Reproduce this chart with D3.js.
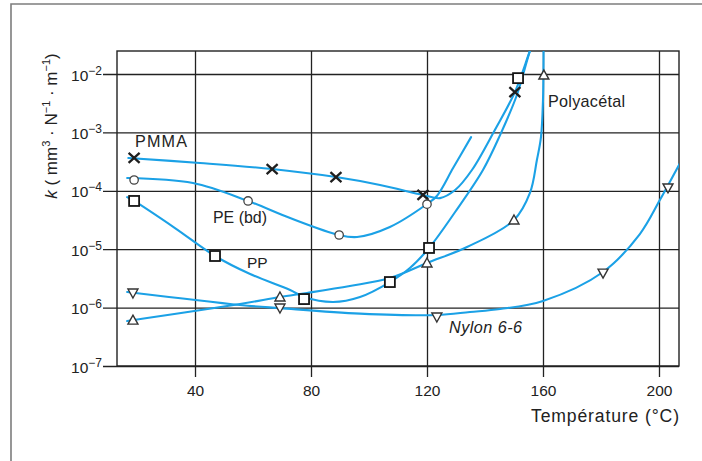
<!DOCTYPE html>
<html><head><meta charset="utf-8">
<script src="https://cdn.jsdelivr.net/npm/d3@7"></script>
<style>
body{margin:0;background:#fff}
svg{display:block}
text{font-family:"Liberation Sans",Arial,sans-serif;fill:#222}
</style>
</head><body>
<svg id="c" width="702" height="461"></svg>
<script>
// ---- data ----
const xTicks = [40, 80, 120, 160, 200];
const yTicks = [1e-7, 1e-6, 1e-5, 1e-4, 1e-3, 1e-2];
const yTickExp = ["−7", "−6", "−5", "−4", "−3", "−2"];

// PMMA (×)
const pmmaCurveT = [17, 41.7, 66.6, 88.6, 103.8, 118.6, 124.5, 129.7, 135.5, 143.4, 150.3, 155.5, 157.6];
const pmmaCurveK = [3.65e-4, 3.0e-4, 2.36e-4, 1.72e-4, 1.26e-4, 8.5e-5, 7.5e-5, 1.03e-4, 2.27e-4, 1.1e-3, 4.9e-3, 2.5e-2, 4.7e-2];
const pmmaMarkT = [19, 66.6, 88.6, 118.6, 150.3];
const pmmaMarkK = [3.65e-4, 2.36e-4, 1.72e-4, 8.5e-5, 4.9e-3];

// PE (bd) (○)
const peCurveT = [16.6, 39.3, 58.3, 72.8, 89.7, 95.9, 107.2, 120, 123.4, 129, 135.2];
const peCurveK = [1.66e-4, 1.36e-4, 6.7e-5, 3.42e-5, 1.75e-5, 1.62e-5, 2.4e-5, 5.94e-5, 8.15e-5, 2.45e-4, 8.3e-4];
const peMarkT = [19, 58.3, 89.7, 120];
const peMarkK = [1.53e-4, 6.7e-5, 1.75e-5, 5.9e-5];

// PP (□)
const ppCurveT = [16.6, 19, 33.1, 46.9, 59, 72.8, 77.6, 87.6, 96.9, 107.2, 114.1, 120.7, 129.7, 139.3, 145.2, 151, 155.5, 157.6];
const ppCurveK = [7.8e-5, 6.7e-5, 2.3e-5, 7.65e-6, 3.76e-6, 2.0e-6, 1.52e-6, 1.25e-6, 1.52e-6, 2.74e-6, 4.76e-6, 1.05e-5, 4.34e-5, 2.27e-4, 9.0e-4, 4.37e-3, 2.48e-2, 4.7e-2];
const ppMarkT = [19, 46.9, 77.6, 107.2, 120.7, 151.4];
const ppMarkK = [6.7e-5, 7.65e-6, 1.4e-6, 2.74e-6, 1.05e-5, 8.5e-3];

// Polyacétal (△)
const poCurveT = [16.6, 55.5, 69.3, 78.6, 93.4, 107.2, 120, 133.8, 150, 155.5, 157.9, 159.3, 160, 160.2];
const poCurveK = [5.9e-7, 1.15e-6, 1.52e-6, 1.78e-6, 2.34e-6, 3.2e-6, 5.8e-6, 1.09e-5, 3.16e-5, 9.2e-5, 3.37e-4, 8.3e-4, 3.6e-3, 5e-2];
const poMarkT = [18.6, 69.3, 120, 150, 160.3];
const poMarkK = [6.1e-7, 1.52e-6, 5.8e-6, 3.16e-5, 9.6e-3];

// Nylon 6-6 (▽)
const nyCurveT = [16.6, 55.5, 69.3, 96.9, 123.4, 134.8, 145.2, 160, 180.7, 193.4, 200.3, 206.9, 210.7];
const nyCurveK = [1.85e-6, 1.11e-6, 9.8e-7, 7.9e-7, 7.46e-7, 8.4e-7, 9.46e-7, 1.3e-6, 4.07e-6, 1.82e-5, 6.95e-5, 2.77e-4, 6.1e-4];
const nyMarkT = [18.6, 69.3, 123.4, 180.7, 203.1];
const nyMarkK = [1.78e-6, 9.85e-7, 6.9e-7, 3.9e-6, 1.12e-4];

// ---- layout ----
const L = 117, R = 679, T = 51, B = 366;
const svg = d3.select("#c");
const x = d3.scaleLinear().domain([13.1, 206.9]).range([L, R]);
const y = d3.scaleLog().domain([1e-7, Math.pow(10, -1.606)]).range([B, T]);
const blue = "#1ba1e6";
const ink = "#222";

// outer frame
svg.append("path").attr("d", "M11,461L11,4L702,4")
  .attr("fill", "none").attr("stroke", "#7d7d7d").attr("stroke-width", 1.6);

// x axis with grid
const gx = svg.append("g").attr("transform", `translate(0,${B + 11})`)
  .call(d3.axisBottom(x).tickValues(xTicks).tickSizeInner(-(B + 11 - T)).tickSizeOuter(0).tickPadding(8).tickFormat(d3.format("d")));
gx.select(".domain").remove();
gx.selectAll("line").attr("stroke", ink).attr("stroke-width", 1.3);
gx.selectAll("text").attr("font-size", 15.5).attr("fill", ink).style("font-family", '"Liberation Sans",Arial,sans-serif');

// y axis with grid
const gy = svg.append("g").attr("transform", `translate(${L - 14},0)`)
  .call(d3.axisLeft(y).tickValues(yTicks).tickSizeInner(-(R - L + 14)).tickSizeOuter(0).tickPadding(1).tickFormat(() => ""));
gy.select(".domain").remove();
gy.selectAll("line").attr("stroke", ink).attr("stroke-width", 1.3);
gy.selectAll("text").each(function(d, i) {
  const t = d3.select(this).attr("dy", null).attr("y", 6).attr("fill", ink)
    .style("font-family", '"Liberation Sans",Arial,sans-serif');
  t.append("tspan").attr("font-size", 15.5).text("10");
  t.append("tspan").attr("font-size", 12).attr("dy", -6).text(yTickExp[i]);
});

// plot frame
svg.append("rect").attr("x", L).attr("y", T).attr("width", R - L).attr("height", B - T)
  .attr("fill", "none").attr("stroke", ink).attr("stroke-width", 1.4);

// clip
svg.append("clipPath").attr("id", "clip").append("rect")
  .attr("x", L).attr("y", T).attr("width", R - L).attr("height", B - T);

const line = d3.line().x(d => x(d[0])).y(d => y(d[1])).curve(d3.curveCatmullRom.alpha(0.5));
const zip = (a, b) => a.map((v, i) => [v, b[i]]);
const curves = [
  zip(pmmaCurveT, pmmaCurveK), zip(peCurveT, peCurveK), zip(ppCurveT, ppCurveK),
  zip(poCurveT, poCurveK), zip(nyCurveT, nyCurveK)
];
svg.append("g").attr("clip-path", "url(#clip)").selectAll("path").data(curves).join("path")
  .attr("d", line).attr("fill", "none").attr("stroke", blue).attr("stroke-width", 2.1)
  .attr("stroke-linecap", "round");

// markers
const mk = svg.append("g");
function place(sel) { return sel.attr("transform", d => `translate(${x(d[0])},${y(d[1])})`); }
place(mk.selectAll(".px").data(zip(pmmaMarkT, pmmaMarkK)).join("path"))
  .attr("d", "M-5.5,-5L5.5,5M-5.5,5L5.5,-5").attr("stroke", "#1e1e1e").attr("stroke-width", 2.3).attr("fill", "none");
place(mk.selectAll(".pc").data(zip(peMarkT, peMarkK)).join("circle"))
  .attr("r", 4.2).attr("fill", "#fff").attr("stroke", "#444").attr("stroke-width", 1.3);
place(mk.selectAll(".ps").data(zip(ppMarkT, ppMarkK)).join("rect"))
  .attr("x", -5).attr("y", -5).attr("width", 10).attr("height", 10)
  .attr("fill", "#fff").attr("stroke", "#151515").attr("stroke-width", 1.8);
place(mk.selectAll(".pt").data(zip(poMarkT, poMarkK)).join("path"))
  .attr("d", "M0,-5L5,4L-5,4Z").attr("fill", "#fff").attr("stroke", "#333").attr("stroke-width", 1.4);
place(mk.selectAll(".pn").data(zip(nyMarkT, nyMarkK)).join("path"))
  .attr("d", "M0,5L5,-4L-5,-4Z").attr("fill", "#fff").attr("stroke", "#333").attr("stroke-width", 1.4);

// labels: grow the font toward the target width, then spread any remainder
function fit(t, w, base, maxSize) {
  const n = t.text().length;
  const nat = t.node().getComputedTextLength();
  if (nat >= w) return t;
  const fs = Math.min(maxSize, base * w / nat);
  t.attr("font-size", fs);
  const nat2 = t.node().getComputedTextLength();
  if (n > 1 && nat2 < w) t.attr("letter-spacing", (w - nat2) / (n - 1));
  return t;
}
const labels = [
  {s: "PMMA", x: 135, y: 147, w: 52, it: false},
  {s: "PE (bd)", x: 213, y: 223, w: 54, it: false},
  {s: "PP", x: 247, y: 268, w: 18, it: false},
  {s: "Polyacétal", x: 548, y: 107, w: 77, it: false},
  {s: "Nylon 6-6", x: 449, y: 333, w: 73, it: true}
];
labels.forEach(l => {
  const t = svg.append("text").attr("x", l.x).attr("y", l.y).attr("font-size", 15.5)
    .attr("font-style", l.it ? "italic" : "normal").text(l.s);
  fit(t, l.w, 15.5, 16.2);
});
fit(svg.append("text").attr("x", 531).attr("y", 422).attr("font-size", 17).text("Température (°C)"), 148, 17, 17.6);

// y title
const yt = svg.append("text").attr("transform", "translate(57,126) rotate(-90)")
  .attr("text-anchor", "middle").attr("font-size", 17);
yt.append("tspan").attr("font-style", "italic").text("k");
yt.append("tspan").text(" ( mm");
yt.append("tspan").attr("font-size", 11).attr("dy", -7).text("3");
yt.append("tspan").attr("dy", 7).text(" · N");
yt.append("tspan").attr("font-size", 11).attr("dy", -7).text("−1");
yt.append("tspan").attr("dy", 7).text(" · m");
yt.append("tspan").attr("font-size", 11).attr("dy", -7).text("−1");
yt.append("tspan").attr("dy", 7).text(")");
</script>
</body></html>
